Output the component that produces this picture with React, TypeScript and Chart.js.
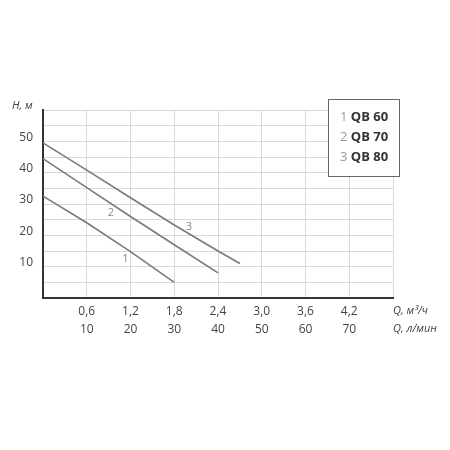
import React, { useEffect, useRef } from "react";
import { Chart, registerables } from "chart.js";

Chart.register(...registerables);

// Tick labels
const qM3Labels = ["0,6", "1,2", "1,8", "2,4", "3,0", "3,6", "4,2"];
const qLminLabels = ["10", "20", "30", "40", "50", "60", "70"];
const hTickValues = [10, 20, 30, 40, 50];

// Series (Q in m3/h, H in m)
const qb60Q = [0, 0.6, 1.2, 1.8];
const qb60H = [32.5, 24, 14.8, 5];
const qb70Q = [0, 0.6, 1.2, 1.8, 2.4];
const qb70H = [44.5, 35.2, 26, 17, 8];
const qb80Q = [0, 0.6, 1.2, 1.8, 2.4, 2.7];
const qb80H = [49.5, 40.8, 32, 23.3, 15, 11];

const seriesNames = ["QB 60", "QB 70", "QB 80"];
const seriesNums = ["1", "2", "3"];
// curve number label positions (data coords)
const curveLabelQ = [1.13, 0.93, 2.0];
const curveLabelH = [12.4, 27.1, 22.8];

const FONT = "'Open Sans', 'Noto Sans', sans-serif";

const pts = (qs: number[], hs: number[]) => qs.map((q, i) => ({ x: q, y: hs[i] }));

export default function App() {
  const ref = useRef<HTMLCanvasElement | null>(null);
  useEffect(() => {
    if (!ref.current) return;
    const overlay = {
      id: "overlay",
      afterDatasetsDraw(chart: any) {
        const ctx = chart.ctx;
        const xs = chart.scales.x;
        const ys = chart.scales.y;
        ctx.save();
        ctx.fillStyle = "#888";
        ctx.font = `11px ${FONT}`;
        ctx.textAlign = "center";
        ctx.textBaseline = "middle";
        for (let i = 0; i < 3; i++) {
          ctx.fillText(seriesNums[i], xs.getPixelForValue(curveLabelQ[i]), ys.getPixelForValue(curveLabelH[i]));
        }
        ctx.restore();
      },
      afterDraw(chart: any) {
        const ctx = chart.ctx;
        ctx.save();
        // legend box
        ctx.fillStyle = "#fff";
        ctx.fillRect(328.5, 99.5, 71, 77);
        ctx.strokeStyle = "#666";
        ctx.lineWidth = 1;
        ctx.strokeRect(328.5, 99.5, 71, 77);
        ctx.textBaseline = "middle";
        ctx.textAlign = "left";
        for (let i = 0; i < 3; i++) {
          const y = 117 + i * 20;
          ctx.font = `13px ${FONT}`;
          ctx.fillStyle = "#999";
          ctx.fillText(seriesNums[i], 340, y);
          const w = ctx.measureText(seriesNums[i] + " ").width;
          ctx.font = `bold 13px ${FONT}`;
          ctx.fillStyle = "#333";
          ctx.fillText(seriesNames[i], 340 + w, y);
        }
        // axis titles
        ctx.font = `italic 11px ${FONT}`;
        ctx.fillStyle = "#444";
        ctx.fillText("H, м", 12, 106);
        ctx.fillText("Q, м³/ч", 393, 311);
        ctx.fillText("Q, л/мин", 393, 329);
        ctx.restore();
      },
    };
    const lineStyle = {
      showLine: true,
      borderColor: "#7a7a7a",
      borderWidth: 1.6,
      pointRadius: 0,
      fill: false,
    };
    const chart = new Chart(ref.current, {
      type: "scatter",
      data: {
        datasets: [
          { label: seriesNames[0], data: pts(qb60Q, qb60H), ...lineStyle },
          { label: seriesNames[1], data: pts(qb70Q, qb70H), ...lineStyle },
          { label: seriesNames[2], data: pts(qb80Q, qb80H), ...lineStyle },
        ],
      },
      options: {
        animation: false,
        responsive: false,
        layout: { padding: { top: 110, right: 57, left: 0, bottom: 0 } },
        plugins: { legend: { display: false }, tooltip: { enabled: false } },
        scales: {
          x: {
            type: "linear",
            min: 0,
            max: 4.8,
            afterFit(scale: any) {
              scale.height = 152;
            },
            grid: { color: "#d9d9d9", lineWidth: 1, drawTicks: false },
            border: { color: "#333", width: 2 },
            ticks: {
              stepSize: 0.6,
              autoSkip: false,
              maxRotation: 0,
              padding: 5,
              color: "#444",
              font: { family: FONT, size: 12, lineHeight: 1.5 },
              callback: (_v: any, i: number) =>
                i >= 1 && i <= qM3Labels.length ? [qM3Labels[i - 1], qLminLabels[i - 1]] : "",
            },
          },
          y: {
            type: "linear",
            min: 0,
            max: 60,
            afterFit(scale: any) {
              scale.width = 43;
            },
            grid: { color: "#d9d9d9", lineWidth: 1, drawTicks: false },
            border: { color: "#333", width: 2 },
            ticks: {
              stepSize: 5,
              autoSkip: false,
              padding: 10,
              labelOffset: -4,
              color: "#444",
              font: { family: FONT, size: 12 },
              callback: (v: any) => (hTickValues.includes(Number(v)) ? String(v) : ""),
            },
          },
        },
      },
      plugins: [overlay],
    } as any);
    return () => chart.destroy();
  }, []);
  return (
    <div style={{ position: "fixed", left: 0, top: 0, width: 450, height: 450, background: "#fff" }}>
      <canvas ref={ref} width={450} height={450} style={{ width: 450, height: 450 }} />
    </div>
  );
}
